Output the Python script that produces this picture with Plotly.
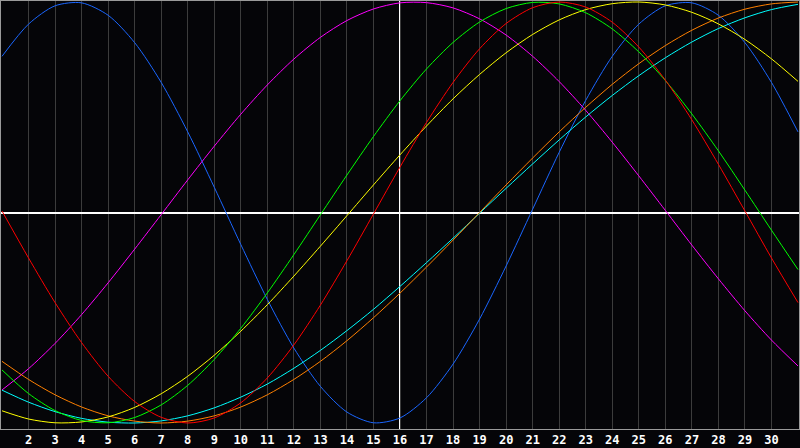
import plotly.graph_objects as go

days = list(range(1, 32))
today = 16

# cycle values per day (-1 .. 1)
physical = [0.742, 0.895, 0.982, 0.996, 0.937, 0.807, 0.618, 0.383, 0.120, -0.152,
            -0.413, -0.644, -0.826, -0.948, -0.999, -0.976, -0.880, -0.720, -0.506, -0.254,
            0.016, 0.286, 0.533, 0.742, 0.895, 0.982, 0.996, 0.937, 0.807, 0.618, 0.383]
emotional = [0.007, -0.216, -0.428, -0.618, -0.778, -0.898, -0.973, -1.000, -0.976, -0.904,
             -0.786, -0.629, -0.440, -0.229, -0.007, 0.216, 0.428, 0.618, 0.778, 0.898,
             0.973, 1.000, 0.976, 0.904, 0.786, 0.629, 0.440, 0.229, 0.007, -0.216, -0.428]
intellectual = [-0.748, -0.860, -0.941, -0.988, -0.999, -0.974, -0.914, -0.821, -0.698, -0.550,
                -0.382, -0.200, -0.011, 0.178, 0.361, 0.531, 0.682, 0.808, 0.905, 0.969,
                0.998, 0.991, 0.949, 0.872, 0.763, 0.627, 0.468, 0.293, 0.106, -0.084, -0.271]
intuitive = [-0.843, -0.742, -0.622, -0.485, -0.334, -0.174, -0.010, 0.155, 0.315, 0.467,
             0.606, 0.729, 0.832, 0.912, 0.967, 0.996, 0.997, 0.972, 0.920, 0.843,
             0.742, 0.622, 0.485, 0.334, 0.174, 0.010, -0.155, -0.315, -0.467, -0.606, -0.729]
aesthetic = [-0.942, -0.981, -0.999, -0.995, -0.971, -0.926, -0.861, -0.778, -0.678, -0.564,
             -0.438, -0.302, -0.160, -0.015, 0.131, 0.274, 0.411, 0.540, 0.656, 0.759,
             0.846, 0.915, 0.964, 0.992, 1.000, 0.986, 0.951, 0.896, 0.822, 0.730, 0.623]
awareness = [-0.707, -0.793, -0.866, -0.924, -0.966, -0.991, -1.000, -0.991, -0.966, -0.924,
             -0.866, -0.793, -0.707, -0.609, -0.500, -0.383, -0.259, -0.131, 0.000, 0.131,
             0.259, 0.383, 0.500, 0.609, 0.707, 0.793, 0.866, 0.924, 0.966, 0.991, 1.000]
spiritual = [-0.844, -0.901, -0.946, -0.978, -0.996, -1.000, -0.990, -0.966, -0.928, -0.877,
             -0.815, -0.740, -0.655, -0.561, -0.460, -0.351, -0.238, -0.122, -0.003, 0.115,
             0.231, 0.345, 0.454, 0.556, 0.650, 0.735, 0.810, 0.874, 0.925, 0.964, 0.989]

tick_days = list(range(2, 31))

series = [
    (physical, '#1a66ff'),
    (intuitive, '#ff00ff'),
    (spiritual, '#00ffff'),
    (awareness, '#ff8000'),
    (aesthetic, '#ffff00'),
    (intellectual, '#00ff00'),
    (emotional, '#ff0000'),
]

fig = go.Figure()
for vals, col in series:
    fig.add_trace(go.Scatter(
        x=days, y=vals,
        mode='lines',
        line=dict(color=col, width=1, shape='spline', smoothing=0.8),
        hoverinfo='skip',
    ))

# today marker
fig.add_shape(type='line', xref='x', yref='paper',
              x0=today, x1=today, y0=0, y1=1,
              line=dict(color='white', width=2), layer='below')

fig.update_layout(
    width=800, height=448,
    margin=dict(l=1, r=1, t=1, b=19),
    paper_bgcolor='#050508',
    plot_bgcolor='#050508',
    showlegend=False,
    xaxis=dict(
        range=[0.9625, 31.0375],
        tickvals=tick_days,
        ticktext=[str(d) for d in tick_days],
        showgrid=True, gridcolor='#3c3c3c', gridwidth=1,
        zeroline=False,
        showline=True, mirror=True, linecolor='#9a9a9a', linewidth=1,
        ticks='', ticklen=0,
        tickfont=dict(family='DejaVu Sans Mono', size=12, color='white', weight='bold'),
        fixedrange=True,
    ),
    yaxis=dict(
        range=[-1.0285, 1.0048],
        showgrid=False,
        showticklabels=False,
        zeroline=True, zerolinecolor='white', zerolinewidth=2,
        showline=True, mirror=True, linecolor='#9a9a9a', linewidth=1,
        ticks='',
        fixedrange=True,
    ),
)

fig.write_html("out.html", config={'displayModeBar': False},
               post_script="document.body.style.margin='0';document.body.style.background='#050508';")
